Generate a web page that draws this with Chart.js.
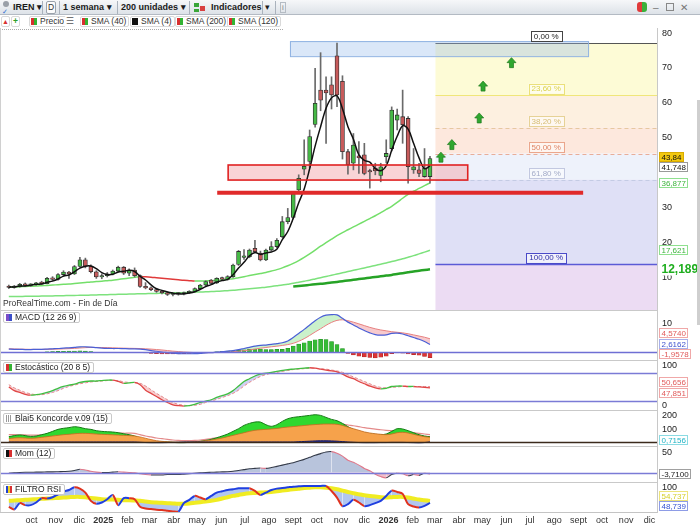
<!DOCTYPE html>
<html lang="es"><head><meta charset="utf-8"><title>IREN</title>
<script src="https://cdn.jsdelivr.net/npm/chart.js@4.4.1/dist/chart.umd.min.js"></script>
<style>
*{box-sizing:border-box}
body{margin:0;width:700px;height:525px;overflow:hidden;background:#fff;position:relative;font-family:'Liberation Sans',Arial,sans-serif;color:#222}
canvas{position:absolute;left:0}
.a{position:absolute}
#tb{left:0;top:0;width:700px;height:15px;background:linear-gradient(#f6f7f9,#dde2e8);border-bottom:1px solid #b3bac3}
.tbt{position:absolute;top:2px;font-size:9px;font-weight:bold;color:#1a1a1a;line-height:11px;white-space:nowrap}
.sep{position:absolute;top:1px;width:1px;height:13px;background:#aab2bc}
.lg{position:absolute;top:16px;height:11px;font-size:8.5px;line-height:9px;color:#333;white-space:nowrap;border:1px solid #d9d9d9;border-radius:2px;padding:0 2px 0 1px;background:#fff}
.ic{display:inline-block;width:6px;height:7px;vertical-align:-1px;margin-right:3px}
.rg{background:linear-gradient(90deg,#d83030 50%,#33b333 50%)}
.pl{position:absolute;left:3px;height:11px;font-size:8.5px;line-height:9px;color:#222;border:1px solid #c9c9c9;border-radius:2px;padding:0 3px 0 2px;background:#fff;white-space:nowrap}
.hs{position:absolute;left:0;width:657px;height:1px;background:#c9c9c9}
</style></head>
<body>
<div id="tb" class="a">
  <div class="a" style="left:3px;top:1px;width:6px;height:6px;border-radius:3px;background:#9aa0a8"></div>
  <div class="a" style="left:2px;top:8px;font-size:7px;line-height:7px;color:#2f6fd0">✓</div>
  <div class="tbt" style="left:13px">IREN ▾</div>
  <div class="sep" style="left:42px"></div>
  <div class="a" style="left:46px;top:1px;width:10px;height:13px;border:1px solid #9aa2ab;border-radius:2px;background:#fbfbfb;font-size:8.5px;line-height:11px;text-align:center;color:#333">D</div>
  <div class="sep" style="left:59px"></div>
  <div class="tbt" style="left:63px">1 semana ▾</div>
  <div class="sep" style="left:117px"></div>
  <div class="tbt" style="left:121px">200 unidades ▾</div>
  <div class="sep" style="left:189px"></div>
  <div class="a" style="left:194px;top:3px;width:5px;height:4px;background:#3aa63a"></div>
  <div class="a" style="left:200px;top:6px;width:5px;height:5px;background:#d84040"></div>
  <div class="a" style="left:194px;top:9px;width:5px;height:3px;background:#3aa63a"></div>
  <div class="tbt" style="left:211px">Indicadores</div>
  <div class="sep" style="left:262px"></div>
  <div class="tbt" style="left:265px;font-weight:normal">▾</div>
  <div class="sep" style="left:275px"></div>
  <div class="a" style="left:280px;top:2px;width:6px;height:11px;border:1px solid #b5bcc4;font-size:8px;line-height:9px;text-align:center;color:#888">i</div>
  <div class="a" style="left:637px;top:2px;width:5px;height:10px;background:#e03a3a;border-radius:3px 0 0 3px"></div>
  <div class="a" style="left:642px;top:2px;width:5px;height:10px;background:#3ab03a;border-radius:0 3px 3px 0"></div>
  <div class="tbt" style="left:653px;font-weight:normal;color:#777;font-size:10px">–</div>
  <div class="a" style="left:666px;top:3px;width:8px;height:8px;border:1px solid #888"></div>
  <div class="tbt" style="left:680px;font-weight:normal;color:#777;font-size:10px">✕</div>
</div>

<div class="lg" style="left:1px;width:9px;padding:0;text-align:center;color:#d83030;font-size:7px">▲</div>
<div class="lg" style="left:11px;width:9px;padding:0;text-align:center;color:#2aa02a;font-weight:bold">+</div>
<div class="lg" style="left:29px"><span class="ic rg"></span>Precio</div>
<div class="lg" style="left:64px;border-color:#fff;color:#555">☰</div>
<div class="lg" style="left:80px"><span class="ic rg"></span>SMA (40)</div>
<div class="lg" style="left:130px"><span class="ic" style="background:#111"></span>SMA (4)</div>
<div class="lg" style="left:175px"><span class="ic rg"></span>SMA (200)</div>
<div class="lg" style="left:227px"><span class="ic rg"></span>SMA (120)</div>
<div class="a" style="left:0;top:29px;width:283px;height:0;border-top:1px dotted #aaa"></div>

<canvas id="cMain" width="700" height="282" style="top:28px"></canvas>
<canvas id="cMacd" width="700" height="50" style="top:310px"></canvas>
<canvas id="cSto" width="700" height="50" style="top:360px"></canvas>
<canvas id="cKon" width="700" height="36" style="top:410px"></canvas>
<canvas id="cMom" width="700" height="36" style="top:446px"></canvas>
<canvas id="cRsi" width="700" height="43" style="top:482px"></canvas>

<div class="a" style="left:3px;top:298px;font-size:8.5px;line-height:10px;color:#333">ProRealTime.com - Fin de Día</div>
<div class="hs" style="top:310px"></div>
<div class="hs" style="top:360px"></div>
<div class="hs" style="top:410px"></div>
<div class="hs" style="top:446px"></div>
<div class="hs" style="top:482px"></div>
<div class="a" style="left:0;top:28px;width:1px;height:484px;background:#d0d0d0"></div>
<div class="a" style="left:697px;top:100px;width:3px;height:225px;background:#cfcfcf"></div>

<div class="pl" style="top:312px"><span class="ic" style="background:linear-gradient(90deg,#7a4cc8 50%,#3b4fc8 50%)"></span>MACD (12 26 9)</div>
<div class="pl" style="top:362px"><span class="ic rg"></span>Estocástico (20 8 5)</div>
<div class="pl" style="top:413px"><span class="ic" style="background:repeating-linear-gradient(90deg,#999 0 1px,#fff 1px 2px)"></span>Blai5 Koncorde v.09 (15)</div>
<div class="pl" style="top:448px"><span class="ic" style="background:linear-gradient(90deg,#111 50%,#d83030 50%)"></span>Mom (12)</div>
<div class="pl" style="top:484px"><span class="ic" style="background:linear-gradient(90deg,#2040d0 33%,#f0d020 33% 66%,#d83030 66%)"></span>FILTRO RSI</div>

<script>
// ---------------- DATA (weekly, first week = 2 Sep 2024) ----------------
const startDate = '2024-09-02';
const opens  = [7.4,7.0,7.3,7.9,7.6,7.9,8.3,8.1,9.6,9.3,
  10.7,11.4,10.9,13.0,14.9,13.1,11.5,10.0,10.4,10.9,
  11.7,12.8,11.1,12.0,10.4,7.3,6.9,6.4,5.9,5.5,
  5.0,5.2,5.1,5.5,5.9,6.7,7.7,9.1,8.3,9.6,
  9.3,10.1,13.6,15.6,15.8,18.2,16.8,14.9,17.7,18.7,
  21.5,25.8,27.0,34.9,40.8,43.0,53.6,63.4,63.4,64.9,
  73.2,65.9,45.8,42.5,44.6,44.9,40.4,41.1,39.0,44.4,
  46.7,54.8,55.8,55.3,40.6,40.6,38.7,38.7];
const highs  = [7.7,7.6,8.2,8.3,8.1,8.5,8.8,9.9,10.1,11.0,
  11.8,11.6,13.3,15.6,15.4,13.5,11.8,10.9,11.3,12.0,
  13.1,13.0,12.3,12.6,10.6,8.4,7.2,6.7,6.2,5.8,
  5.4,5.5,5.7,6.1,6.9,7.9,8.9,9.3,9.8,10.0,
  10.4,13.7,17.6,17.8,18.0,20.5,17.4,18.0,20.1,21.0,
  27.3,29.6,34.3,39.2,49.2,52.0,69.6,74.1,67.2,67.2,
  76.8,67.5,46.5,51.0,48.7,48.2,40.8,42.5,42.5,49.2,
  58.6,58.0,63.4,55.8,46.7,42.5,46.7,44.5];
const lows   = [6.7,6.8,7.1,7.4,7.3,7.6,7.9,8.0,9.0,9.1,
  10.2,9.6,10.7,12.8,12.6,11.2,9.6,9.5,10.0,10.6,
  11.4,10.7,10.4,10.0,7.0,6.6,6.1,5.6,5.2,4.7,
  4.6,4.8,4.9,5.3,5.7,6.5,7.5,8.0,8.1,9.1,
  9.1,9.9,13.3,15.0,15.5,16.9,14.6,14.7,17.4,18.4,
  21.2,25.2,26.6,34.4,39.2,41.2,52.8,57.5,48.2,58.0,
  58.7,43.7,39.4,40.6,39.6,39.2,35.4,39.2,37.2,42.6,
  46.0,52.0,48.2,36.8,39.6,38.7,38.5,36.8];
const closes = [7.0,7.3,7.9,7.6,7.9,8.3,8.1,9.6,9.3,10.7,
  11.4,10.9,13.0,14.9,13.1,11.5,10.0,10.4,10.9,11.7,
  12.8,11.1,12.0,10.4,7.3,6.9,6.4,5.9,5.5,5.0,
  5.2,5.1,5.5,5.9,6.7,7.7,8.7,8.2,9.6,9.4,
  10.1,13.4,17.3,15.9,17.7,17.2,14.9,17.7,18.7,20.5,
  25.8,27.0,33.8,38.2,41.6,50.1,59.6,60.5,62.6,62.0,
  62.0,45.8,42.0,47.7,44.0,39.6,40.0,40.3,41.5,45.3,
  57.7,56.3,53.5,41.5,41.5,39.6,41.1,43.84];
const sma4 = [7.1,7.15,7.4,7.45,7.68,7.93,7.98,8.48,8.83,9.43,
  10.25,10.58,11.5,12.55,13.1,13.13,12.38,11.25,10.7,10.75,
  11.45,11.63,11.9,11.58,10.2,9.15,7.75,6.63,6.18,5.7,
  5.4,5.2,5.2,5.43,5.8,6.45,7.25,7.83,8.55,8.98,
  9.33,10.63,12.55,14.18,16.08,17.03,16.43,16.88,17.13,17.95,
  20.68,23.0,26.78,31.2,35.15,40.93,47.38,52.95,58.2,61.18,
  61.78,58.1,52.95,49.38,44.88,43.33,42.83,40.98,40.35,41.78,
  46.2,50.2,53.2,52.25,48.2,44.03,40.93,41.748];
const sma40 = [7.1,7.15,7.2,7.3,7.35,7.4,7.5,7.6,7.7,7.8,
  7.9,8.0,8.15,8.3,8.45,8.6,8.7,8.8,8.95,9.1,
  9.3,9.5,9.7,9.9,10.1,10.05,9.95,9.8,9.65,9.5,
  9.35,9.2,9.05,8.95,8.85,8.85,8.9,8.95,9.05,9.2,
  9.35,9.5,9.8,10.1,10.4,10.7,11.0,11.3,11.7,12.1,
  12.6,13.2,13.9,14.7,15.6,16.6,17.7,18.8,19.8,20.8,
  21.8,22.7,23.5,24.3,25.1,25.9,26.7,27.5,28.4,29.3,
  30.2,31.3,32.5,33.6,34.5,35.3,36.1,36.877];
const sma120 = [4.4,4.42,4.45,4.47,4.5,4.52,4.55,4.58,4.6,4.63,
  4.66,4.7,4.73,4.77,4.8,4.84,4.88,4.92,4.96,5.0,
  5.04,5.08,5.12,5.16,5.2,5.24,5.28,5.32,5.36,5.4,
  5.45,5.5,5.55,5.6,5.66,5.72,5.78,5.85,5.92,6.0,
  6.1,6.2,6.35,6.5,6.65,6.8,6.95,7.1,7.3,7.5,
  7.7,7.95,8.2,8.5,8.8,9.1,9.45,9.8,10.15,10.5,
  10.85,11.2,11.55,11.9,12.25,12.6,12.95,13.3,13.65,14.0,
  14.4,14.8,15.2,15.65,16.1,16.6,17.1,17.621];
const sma200Start = 52;
const sma200 = [7.3,7.45,7.6,7.75,7.9,8.05,8.2,8.4,8.6,8.8,9.0,9.2,9.4,9.6,9.8,10.0,
  10.2,10.4,10.6,10.85,11.1,11.35,11.6,11.8,12.0,12.189];

const macdLine = [1.0,0.9,0.9,0.85,0.85,0.9,0.9,1.0,1.1,1.2,
  1.35,1.45,1.6,1.8,1.8,1.7,1.5,1.35,1.25,1.2,
  1.2,1.15,1.1,1.1,1.0,0.8,0.5,0.25,0.0,-0.2,
  -0.4,-0.55,-0.6,-0.6,-0.55,-0.45,-0.3,-0.2,-0.05,0.1,
  0.3,0.5,0.8,1.2,1.6,2.0,2.3,2.4,2.6,2.9,
  3.2,3.8,5.0,6.4,7.8,9.3,10.8,12.0,12.7,12.9,
  12.8,11.6,10.3,9.3,8.3,7.4,6.6,6.0,5.8,5.9,
  6.4,6.5,6.2,5.6,5.0,4.4,3.6,2.6162];
const macdSignal = [1.1,1.05,1.0,0.95,0.92,0.9,0.9,0.93,0.96,1.0,
  1.08,1.15,1.25,1.38,1.5,1.57,1.57,1.55,1.5,1.44,
  1.38,1.33,1.28,1.25,1.2,1.1,1.0,0.85,0.7,0.5,
  0.3,0.15,0.0,-0.1,-0.2,-0.25,-0.25,-0.2,-0.15,-0.1,
  0.0,0.1,0.25,0.45,0.7,1.0,1.3,1.55,1.8,2.0,
  2.25,2.55,3.0,3.7,4.6,5.7,6.9,8.0,9.2,10.2,
  10.9,11.1,10.8,10.3,9.7,9.1,8.5,8.0,7.6,7.3,
  7.0,6.8,6.6,6.3,5.9,5.5,5.1,4.574];
const macdHist = [-0.1,-0.15,-0.1,-0.1,-0.07,0,0,0.07,0.14,0.2,
  0.27,0.3,0.35,0.42,0.3,0.13,-0.07,-0.2,-0.25,-0.24,
  -0.18,-0.18,-0.18,-0.15,-0.2,-0.3,-0.5,-0.6,-0.7,-0.7,
  -0.7,-0.7,-0.6,-0.5,-0.35,-0.2,-0.05,0,0.1,0.2,
  0.3,0.4,0.55,0.75,0.9,1.0,1.0,0.85,0.8,0.9,
  0.95,1.25,2.0,2.7,3.2,3.8,4.2,4.4,4.3,3.6,
  2.6,1.2,-0.5,-1.0,-1.4,-1.7,-1.9,-2.0,-1.8,-1.4,
  -0.6,-0.3,-0.4,-0.7,-0.9,-1.1,-1.5,-1.9578];

const stochK = [50,42,38,34,32,33,35,38,42,47,
  51,54,56,60,62,63,63,64,65,65,
  62,58,59,60,55,43,36,29,22,16,
  11,9,8,9,12,16,19,22,27,31,
  35,42,52,62,68,74,78,80,82,84,
  86,88,89,90,91,92,91,89,87,85,
  83,78,72,68,62,57,52,48,46,47,
  51,52,52,51,51,50,49,47.851];
const stochD = [55,48,43,38,35,33,33,35,38,42,
  47,51,54,57,59,61,62,63,64,64,
  64,61,60,59,58,52,44,36,29,22,
  16,12,10,9,10,12,16,19,23,27,
  31,36,43,52,60,67,73,77,80,82,
  84,86,88,89,90,91,91,90,89,87,
  85,82,77,72,67,62,57,52,49,48,
  49,50,51,51,51,51,51,50.656];

const konGreen = [40,48,53,48,42,45,55,65,80,95,
  103,108,115,110,100,95,85,80,77,75,
  70,62,55,45,30,15,5,2,0,0,
  -3,-5,-5,-3,0,5,12,20,32,45,
  60,80,100,125,140,150,150,130,118,130,
  155,175,185,190,195,200,205,200,185,170,
  160,140,115,95,80,70,62,58,55,60,
  80,100,98,85,70,55,45,40];
const konOrange = [25,30,32,30,28,30,35,40,45,50,
  55,58,62,65,65,63,60,58,56,54,
  52,50,48,45,38,28,18,10,5,2,
  0,0,0,1,3,6,10,15,22,30,
  40,50,60,70,80,88,92,95,98,102,
  108,112,116,120,124,128,131,134,135,135,
  133,125,112,100,88,76,68,62,58,55,
  60,70,73,68,58,48,40,36];
const konPink = [55,55,54,53,52,52,53,55,58,62,
  66,68,70,71,72,72,71,70,69,68,
  67,66,66,65,55,45,38,30,25,20,
  15,12,10,10,12,15,20,25,32,38,
  45,52,60,68,76,84,92,100,106,112,
  118,124,129,134,138,141,143,145,145,143,
  140,135,128,122,115,108,102,97,92,88,
  85,82,79,75,70,65,60,55];
const konBlue = [0,0,0,0,0,0,0,0,0,0,
  0,0,0,0,0,0,0,0,0,0,
  0,0,0,0,-2,-4,-5,-5,-5,-4,
  -3,-2,0,0,0,0,0,0,0,0,
  0,0,0,0,0,0,0,0,0,0,
  0,0,0,2,4,6,8,9,9,8,
  6,3,0,-2,-4,-5,-5,-5,-4,-4,
  -3,-3,-3,-4,-5,-6,-4,0.7156];

const mom12 = [-2,-1,0,0.5,0.5,1,1,1.5,1.5,2,
  2.5,3,5,8,6,3,1,0,0,1,
  2,1,0,-1,-3,-5,-6,-6,-6,-5,
  -5,-5,-4,-3,-2,-1,0,0.5,1,1.5,
  2,3,5,7,9,10,11,10,12,15,
  18,21,24,28,32,37,42,46,50,51,
  47,40,30,25,18,10,4,-4,-10,-13,
  -5,-2,-3,-8,-5,-7,-2,-3.71];

const rsiLine = [37,29,48,42,42,50,63,62,66,75,
  83,88,96,92,80,55,46,50,60,73,
  42,63,63,60,37,32,30,28,27,25,
  23,22,48,58,70,65,60,70,80,84,
  88,90,93,93,93,85,73,80,88,92,
  94,96,98,99,100,100,100,100,100,85,
  65,39,45,58,50,39,42,48,55,70,
  86,82,76,45,38,35,40,48.739];
const rsiSignal = [55,56,57,58,59,60,61,62,63,64,
  65,66,67,67,66,64,62,60,59,59,
  58,57,57,56,55,53,51,50,49,48,
  47,46,46,47,49,51,53,55,58,62,
  66,70,73,76,78,79,80,81,82,84,
  86,88,90,92,94,95,96,96,95,93,
  90,86,82,78,75,72,70,68,66,65,
  66,67,67,65,62,59,57,54.737];

// Fibonacci retracement & drawings (price levels / week positions)
const fibHigh = 76.87, fibLow = 13.63;
const fibRatios = [0, 0.236, 0.382, 0.5, 0.618, 1];
const fibLabels = ['0,00 %','23,60 %','38,20 %','50,00 %','61,80 %','100,00 %'];
const fibStartWeek = 78;
const blueBoxWeeks = [51.4, 105.9], blueBoxPrices = [73.1, 77.4];
const redZoneWeeks = [40.1, 83.9], redZonePrices = [37.7, 42.0];
const redLineWeeks = [38.1, 105.0], redLinePrice = 34.1;
const arrowWeeks  = [79.0, 81.0, 86.0, 86.7, 91.9];
const arrowPrices = [44.1, 47.7, 55.3, 64.4, 71.1];

// Axis tick labels
const monthLabels = ['oct','nov','dic','2025','feb','mar','abr','may','jun','jul','ago','sept','oct','nov','dic',
  '2026','feb','mar','abr','may','jun','jul','ago','sept','oct','nov','dic'];
const monthDates = ['2024-10-01','2024-11-01','2024-12-01','2025-01-01','2025-02-01','2025-03-01','2025-04-01',
  '2025-05-01','2025-06-01','2025-07-01','2025-08-01','2025-09-01','2025-10-01','2025-11-01','2025-12-01',
  '2026-01-01','2026-02-01','2026-03-01','2026-04-01','2026-05-01','2026-06-01','2026-07-01','2026-08-01',
  '2026-09-01','2026-10-01','2026-11-01','2026-12-01'];
const priceTicks = [10,20,30,50,60,70,80];
const macdTicks = [10];
const stochTicks = [100, 0];
const konTicks = [200,100];
const momTicks = [50];
const rsiTicks = [100];

// ---------------- RENDER ----------------
const FONT = "'Liberation Sans', Arial, sans-serif";
const WEEK_PX = 5.47, FIRST_PX = 8.8, PLOT_W = 657;
const X_MIN = -FIRST_PX / WEEK_PX, X_MAX = X_MIN + PLOT_W / WEEK_PX;
const monthPos = monthDates.map(d => (Date.parse(d) - Date.parse(startDate)) / (7 * 864e5));
const pts = arr => arr.map((v, i) => ({x: i, y: v}));
const fmt = (v, d) => v.toFixed(d).replace('.', ',');
const upDown = (up, down) => ({borderColor: c => c.p1.parsed.y < c.p0.parsed.y ? down : up});

const valueBoxes = {
  id: 'valueBoxes',
  afterDraw(chart, args, opts) {
    const {ctx, chartArea: a, scales: {y}} = chart;
    ctx.save();
    ctx.font = '9px ' + FONT; ctx.fillStyle = '#222'; ctx.textBaseline = 'middle'; ctx.textAlign = 'left';
    (opts.ticks || []).forEach(v => {
      const py = Math.min(Math.max(y.getPixelForValue(v), a.top + 5), a.bottom - 5);
      ctx.fillText(String(v), a.right + 5, py + 0.5);
    });
    const H = 10.5;
    const items = (opts.items || []).map(it => Object.assign({}, it, {t: y.getPixelForValue(it.value)}));
    items.sort((p, q) => p.t - q.t);
    let cl = items.map(it => ({items: [it]}));
    const place = c => {
      const n = c.items.length, mean = c.items.reduce((s, i) => s + i.t, 0) / n;
      c.top = Math.min(Math.max(mean - (n - 1) * H / 2, a.top + 6), a.bottom - 6 - (n - 1) * H);
    };
    cl.forEach(place);
    let merged = true;
    while (merged) {
      merged = false;
      for (let i = 0; i < cl.length - 1; i++) {
        if (cl[i].top + cl[i].items.length * H > cl[i + 1].top + 0.01) {
          cl[i].items = cl[i].items.concat(cl[i + 1].items); cl.splice(i + 1, 1); place(cl[i]); merged = true; break;
        }
      }
    }
    cl.forEach(c => c.items.forEach((it, k) => {
      const cy = Math.round(c.top + k * H);
      ctx.font = (it.bold ? 'bold ' : '') + (it.size || 8) + 'px ' + FONT;
      const w = Math.round(ctx.measureText(it.text).width + 5);
      const bx = a.right + 2, h = it.size ? it.size + 1 : 10;
      ctx.fillStyle = it.bg || '#fff'; ctx.fillRect(bx, cy - h / 2, w, h);
      if (it.border) { ctx.strokeStyle = it.border; ctx.lineWidth = 1; ctx.strokeRect(bx + 0.5, cy - h / 2 + 0.5, w - 1, h - 1); }
      ctx.fillStyle = it.color; ctx.textBaseline = 'middle'; ctx.textAlign = 'left';
      ctx.fillText(it.text, bx + 2.5, cy + 0.5);
    }));
    ctx.restore();
  }
};

const refLines = {
  id: 'refLines',
  afterDatasetsDraw(chart, args, opts) {
    const {ctx, chartArea: a, scales: {y}} = chart;
    ctx.save();
    (opts.lines || []).forEach(l => {
      const py = Math.round(y.getPixelForValue(l.value)) + 0.5;
      ctx.strokeStyle = l.color; ctx.lineWidth = l.width || 1;
      ctx.beginPath(); ctx.moveTo(a.left, py); ctx.lineTo(a.right, py); ctx.stroke();
    });
    ctx.restore();
  }
};

const fibZoneColors = ['#fdfbd6', '#fdf0e0', '#fde8dd', '#eef2fb', '#dfe0f6'];
const fibBelowColor = '#ecdcf3';
const fibLineStyles = [
  {c: '#555555', w: 1, d: []}, {c: '#f0e67a', w: 1, d: []}, {c: '#e6c8a0', w: 1, d: [4, 3]},
  {c: '#e9ad98', w: 1, d: [4, 3]}, {c: '#c4cbe4', w: 1, d: [4, 3]}, {c: '#5b5bd6', w: 1.3, d: []}];
const fibTextColors = ['#222', '#dcd24a', '#d6bd74', '#de8464', '#a3abc8', '#2f2fa8'];
const fibBorderColors = ['#444', '#ebe07a', '#e6d296', '#eaa68c', '#c2c8e0', '#4a4ac8'];

function drawArrow(ctx, x, y) {
  ctx.beginPath();
  ctx.moveTo(x, y - 5.5); ctx.lineTo(x + 4.5, y - 0.5); ctx.lineTo(x + 2, y - 0.5); ctx.lineTo(x + 2, y + 4.5);
  ctx.lineTo(x - 2, y + 4.5); ctx.lineTo(x - 2, y - 0.5); ctx.lineTo(x - 4.5, y - 0.5); ctx.closePath();
  ctx.fillStyle = '#2fa72f'; ctx.fill(); ctx.strokeStyle = '#1c7a1c'; ctx.lineWidth = 0.7; ctx.stroke();
}

const mainAnnot = {
  id: 'mainAnnot',
  beforeDatasetsDraw(chart) {
    const {ctx, chartArea: a, scales: {x, y}} = chart;
    const x0 = x.getPixelForValue(fibStartWeek), x1 = a.right;
    const py = fibRatios.map(r => y.getPixelForValue(fibHigh - r * (fibHigh - fibLow)));
    ctx.save();
    for (let k = 0; k < 5; k++) { ctx.fillStyle = fibZoneColors[k]; ctx.fillRect(x0, py[k], x1 - x0, py[k + 1] - py[k]); }
    ctx.fillStyle = fibBelowColor; ctx.fillRect(x0, py[5], x1 - x0, a.bottom - py[5]);
    py.forEach((p, k) => {
      const s = fibLineStyles[k];
      ctx.strokeStyle = s.c; ctx.lineWidth = s.w; ctx.setLineDash(s.d);
      ctx.beginPath(); ctx.moveTo(x0, Math.round(p) + 0.5); ctx.lineTo(x1, Math.round(p) + 0.5); ctx.stroke();
    });
    ctx.setLineDash([]);
    const bx0 = x.getPixelForValue(blueBoxWeeks[0]), bx1 = x.getPixelForValue(blueBoxWeeks[1]);
    const by0 = y.getPixelForValue(blueBoxPrices[1]), by1 = y.getPixelForValue(blueBoxPrices[0]);
    ctx.fillStyle = 'rgba(150,185,235,0.35)'; ctx.fillRect(bx0, by0, bx1 - bx0, by1 - by0);
    ctx.strokeStyle = '#8fb2e2'; ctx.lineWidth = 1; ctx.strokeRect(bx0 + 0.5, by0 + 0.5, bx1 - bx0, by1 - by0);
    const rx0 = x.getPixelForValue(redZoneWeeks[0]), rx1 = x.getPixelForValue(redZoneWeeks[1]);
    const ry0 = y.getPixelForValue(redZonePrices[1]), ry1 = y.getPixelForValue(redZonePrices[0]);
    ctx.fillStyle = 'rgba(242,160,165,0.45)'; ctx.fillRect(rx0, ry0, rx1 - rx0, ry1 - ry0);
    ctx.restore();
  },
  afterDatasetsDraw(chart) {
    const {ctx, chartArea: a, scales: {x, y}} = chart;
    ctx.save();
    const rx0 = x.getPixelForValue(redZoneWeeks[0]), rx1 = x.getPixelForValue(redZoneWeeks[1]);
    const ry0 = y.getPixelForValue(redZonePrices[1]), ry1 = y.getPixelForValue(redZonePrices[0]);
    ctx.strokeStyle = '#e02222'; ctx.lineWidth = 1.6; ctx.strokeRect(rx0, ry0, rx1 - rx0, ry1 - ry0);
    const ly = y.getPixelForValue(redLinePrice);
    ctx.strokeStyle = '#e02a2a'; ctx.lineWidth = 4;
    ctx.beginPath(); ctx.moveTo(x.getPixelForValue(redLineWeeks[0]), ly); ctx.lineTo(x.getPixelForValue(redLineWeeks[1]), ly); ctx.stroke();
    arrowWeeks.forEach((w, k) => drawArrow(ctx, x.getPixelForValue(w), y.getPixelForValue(arrowPrices[k])));
    const cx = (x.getPixelForValue(fibStartWeek) + a.right) / 2;
    ctx.font = '8px ' + FONT; ctx.textBaseline = 'middle'; ctx.textAlign = 'center';
    fibRatios.forEach((r, k) => {
      const p = y.getPixelForValue(fibHigh - r * (fibHigh - fibLow)) - 6.5;
      const w = ctx.measureText(fibLabels[k]).width + 6;
      ctx.fillStyle = 'rgba(255,255,255,0.55)'; ctx.fillRect(cx - w / 2, p - 5, w, 10);
      ctx.strokeStyle = fibBorderColors[k]; ctx.lineWidth = 1; ctx.strokeRect(Math.round(cx - w / 2) + 0.5, Math.round(p - 5) + 0.5, Math.round(w), 10);
      ctx.fillStyle = fibTextColors[k]; ctx.fillText(fibLabels[k], cx, p + 0.5);
    });
    ctx.restore();
  }
};

function opts(yMin, yMax, showX, extraPlugins) {
  const x = {
    type: 'linear', min: X_MIN, max: X_MAX, offset: false, display: showX,
    grid: {display: false, drawTicks: false, tickLength: 0}, border: {display: true, color: '#c4c4c4'},
    afterBuildTicks(s) { s.ticks = monthPos.map(v => ({value: v})); },
    ticks: {
      autoSkip: false, maxRotation: 0, minRotation: 0, padding: 3, color: '#333',
      font: c => ({family: FONT, size: 9, weight: /^\d{4}$/.test(monthLabels[c.index] || '') ? 'bold' : 'normal'}),
      callback: (v, i) => monthLabels[i]
    }
  };
  if (showX) x.afterFit = s => { s.height = 13; };
  return {
    responsive: false, animation: false, devicePixelRatio: 1, events: [],
    layout: {padding: 0, autoPadding: false},
    plugins: Object.assign({legend: {display: false}, tooltip: {enabled: false}, filler: {drawTime: 'beforeDatasetsDraw'}}, extraPlugins || {}),
    scales: {
      x: x,
      y: {
        type: 'linear', position: 'right', min: yMin, max: yMax,
        afterFit(s) { s.width = 43; },
        afterBuildTicks(s) { s.ticks = []; },
        grid: {display: false}, border: {display: true, color: '#c8c8c8'},
        ticks: {display: false}
      }
    }
  };
}

const idx = closes.map((_, i) => i);

new Chart(document.getElementById('cMain'), {
  type: 'bar',
  data: {datasets: [
    {type: 'line', label: 'SMA (4)', data: pts(sma4), borderColor: '#111', borderWidth: 1.5, pointRadius: 0, tension: 0.35, order: 0},
    {type: 'bar', label: 'Precio', data: idx.map(i => ({x: i, y: [Math.min(opens[i], closes[i]), Math.max(opens[i], closes[i])]})),
      backgroundColor: idx.map(i => closes[i] >= opens[i] ? '#46b946' : '#c75b5b'), borderColor: '#2e2e2e', borderWidth: 0.8,
      borderSkipped: false, barThickness: 4, grouped: false, minBarLength: 1.5, order: 2},
    {type: 'bar', label: 'wick', data: idx.map(i => ({x: i, y: [lows[i], highs[i]]})), backgroundColor: '#6a6a6a',
      barThickness: 1, grouped: false, order: 3},
    {type: 'line', label: 'SMA (40)', data: pts(sma40), borderWidth: 1.5, pointRadius: 0, tension: 0.3, order: 4,
      borderColor: '#74df6a', segment: upDown('#74df6a', '#e03a3a')},
    {type: 'line', label: 'SMA (120)', data: pts(sma120), borderColor: '#7de27d', borderWidth: 1.5, pointRadius: 0, tension: 0.3, order: 5},
    {type: 'line', label: 'SMA (200)', data: sma200.map((v, k) => ({x: sma200Start + k, y: v})), borderColor: '#26a326', borderWidth: 2.5, pointRadius: 0, tension: 0.3, order: 5}
  ]},
  options: opts((312 - 310) / 3.5, (312 - 28) / 3.5, false, {
    valueBoxes: {ticks: priceTicks, items: [
      {value: closes[77], text: fmt(closes[77], 2), bg: '#f2c80f', border: '#d9ab00', color: '#111'},
      {value: sma4[77], text: fmt(sma4[77], 3), border: '#9a9a9a', color: '#111'},
      {value: sma40[77], text: fmt(sma40[77], 3), border: '#8fe08f', color: '#3cb43c'},
      {value: sma120[77], text: fmt(sma120[77], 3), border: '#8fe08f', color: '#3cb43c'},
      {value: sma200[sma200.length - 1], text: fmt(sma200[sma200.length - 1], 3), color: '#1fae1f', bold: true, size: 12}
    ]}
  }),
  plugins: [mainAnnot, valueBoxes]
});

new Chart(document.getElementById('cMacd'), {
  type: 'bar',
  data: {datasets: [
    {type: 'bar', label: 'hist', data: pts(macdHist), backgroundColor: macdHist.map(v => v >= 0 ? '#35bb35' : '#dc3535'),
      borderColor: macdHist.map(v => v >= 0 ? '#1e8a1e' : '#a82020'), borderWidth: 0.5, barThickness: 4, grouped: false, order: 3},
    {type: 'line', label: 'MACD', data: pts(macdLine), borderColor: '#4a5fd6', borderWidth: 1.2, pointRadius: 0, tension: 0.35, order: 0,
      fill: {target: 2, above: 'rgba(140,225,140,0.45)', below: 'rgba(240,150,155,0.5)'}},
    {type: 'line', label: 'Señal', data: pts(macdSignal), borderColor: '#e88080', borderWidth: 1, pointRadius: 0, tension: 0.35, order: 1}
  ]},
  options: opts(-8 / 2.9, 42 / 2.9, false, {
    refLines: {lines: [{value: 0, color: '#6f6fd4', width: 1.5}]},
    valueBoxes: {ticks: macdTicks, items: [
      {value: macdSignal[77], text: fmt(macdSignal[77], 4), border: '#f0a8a8', color: '#e05a5a'},
      {value: macdLine[77], text: fmt(macdLine[77], 4), border: '#a8b0ea', color: '#3f52cf'},
      {value: macdHist[77], text: fmt(macdHist[77], 4), border: '#f0a8a8', color: '#e05a5a'}
    ]}
  }),
  plugins: [refLines, valueBoxes]
});

new Chart(document.getElementById('cSto'), {
  type: 'line',
  data: {datasets: [
    {label: '%K', data: pts(stochK), borderWidth: 1.3, pointRadius: 0, tension: 0.35, order: 0,
      borderColor: '#3fbf3f', segment: upDown('#3fbf3f', '#e04646'),
      fill: {target: 1, above: 'rgba(165,170,235,0.55)', below: 'rgba(242,165,165,0.55)'}},
    {label: '%D', data: pts(stochD), borderColor: '#e58a8a', borderWidth: 1, borderDash: [3, 2], pointRadius: 0, tension: 0.35, order: 1}
  ]},
  options: opts(-0.2 / 0.457, 49.8 / 0.457, false, {
    refLines: {lines: [{value: 80, color: '#7b7bd6', width: 1.5}, {value: 20, color: '#7b7bd6', width: 1.5}]},
    valueBoxes: {ticks: stochTicks, items: [
      {value: stochD[77], text: fmt(stochD[77], 3), border: '#f0a8a8', color: '#e05a5a'},
      {value: stochK[77], text: fmt(stochK[77], 3), border: '#f0a8a8', color: '#e05a5a'}
    ]}
  }),
  plugins: [refLines, valueBoxes]
});

new Chart(document.getElementById('cKon'), {
  type: 'line',
  data: {datasets: [
    {label: 'media', data: pts(konPink), borderColor: '#e48a8a', borderWidth: 1.2, pointRadius: 0, tension: 0.3, fill: false, order: 4},
    {label: 'verde', data: pts(konGreen), borderColor: '#167a16', backgroundColor: '#2fd82f', borderWidth: 1, pointRadius: 0, tension: 0.3, fill: 'origin', order: 3},
    {label: 'marrón', data: pts(konOrange), borderColor: '#c56a1e', backgroundColor: '#f6a24b', borderWidth: 0.8, pointRadius: 0, tension: 0.3, fill: 'origin', order: 2},
    {label: 'azul', data: pts(konBlue), borderColor: '#101a70', backgroundColor: '#1f2d9c', borderWidth: 1, pointRadius: 0, tension: 0.3, fill: 'origin', order: 1}
  ]},
  options: opts(-4 / 0.133, 32 / 0.133, false, {
    filler: {drawTime: 'beforeDatasetDraw'},
    refLines: {lines: [{value: 0, color: '#3b2a1c', width: 1.5}]},
    valueBoxes: {ticks: konTicks, items: [{value: konBlue[77], text: fmt(konBlue[77], 4), border: '#8adbe3', color: '#1fb3c4'}]}
  }),
  plugins: [refLines, valueBoxes]
});

new Chart(document.getElementById('cMom'), {
  type: 'line',
  data: {datasets: [
    {label: 'Mom', data: pts(mom12), borderWidth: 1.1, pointRadius: 0, tension: 0.3,
      borderColor: '#333', segment: upDown('#333a48', '#e0788a'),
      fill: {target: 'origin', above: 'rgba(172,186,214,0.85)', below: 'rgba(236,170,185,0.75)'}}
  ]},
  options: opts(-9.5 / 0.41, 26.5 / 0.41, false, {
    refLines: {lines: [{value: 0, color: '#7b7bd6', width: 1.5}]},
    valueBoxes: {ticks: momTicks, items: [{value: mom12[77], text: fmt(mom12[77], 4), border: '#a0a0a0', color: '#222'}]}
  }),
  plugins: [refLines, valueBoxes]
});

new Chart(document.getElementById('cRsi'), {
  type: 'line',
  data: {datasets: [
    {label: 'RSI', data: pts(rsiLine), borderWidth: 2, pointRadius: 0, tension: 0.3, order: 0,
      borderColor: '#1f3fe0', segment: upDown('#1f3fe0', '#e0321e'),
      fill: {target: 1, above: 'rgba(125,160,230,0.6)', below: 'rgba(125,160,230,0.6)'}},
    {label: 'Señal', data: pts(rsiSignal), borderColor: '#f0ec22', borderWidth: 4, pointRadius: 0, tension: 0.3, order: 1}
  ]},
  options: opts(100 - 26 / 0.33, 100 + 4 / 0.33, true, {
    valueBoxes: {ticks: rsiTicks, items: [
      {value: rsiSignal[77], text: fmt(rsiSignal[77], 3), border: '#ece37a', color: '#d6cf2a'},
      {value: rsiLine[77], text: fmt(rsiLine[77], 3), border: '#8e9ce6', color: '#3352d4'}
    ]}
  }),
  plugins: [valueBoxes]
});
</script>
</body></html>
